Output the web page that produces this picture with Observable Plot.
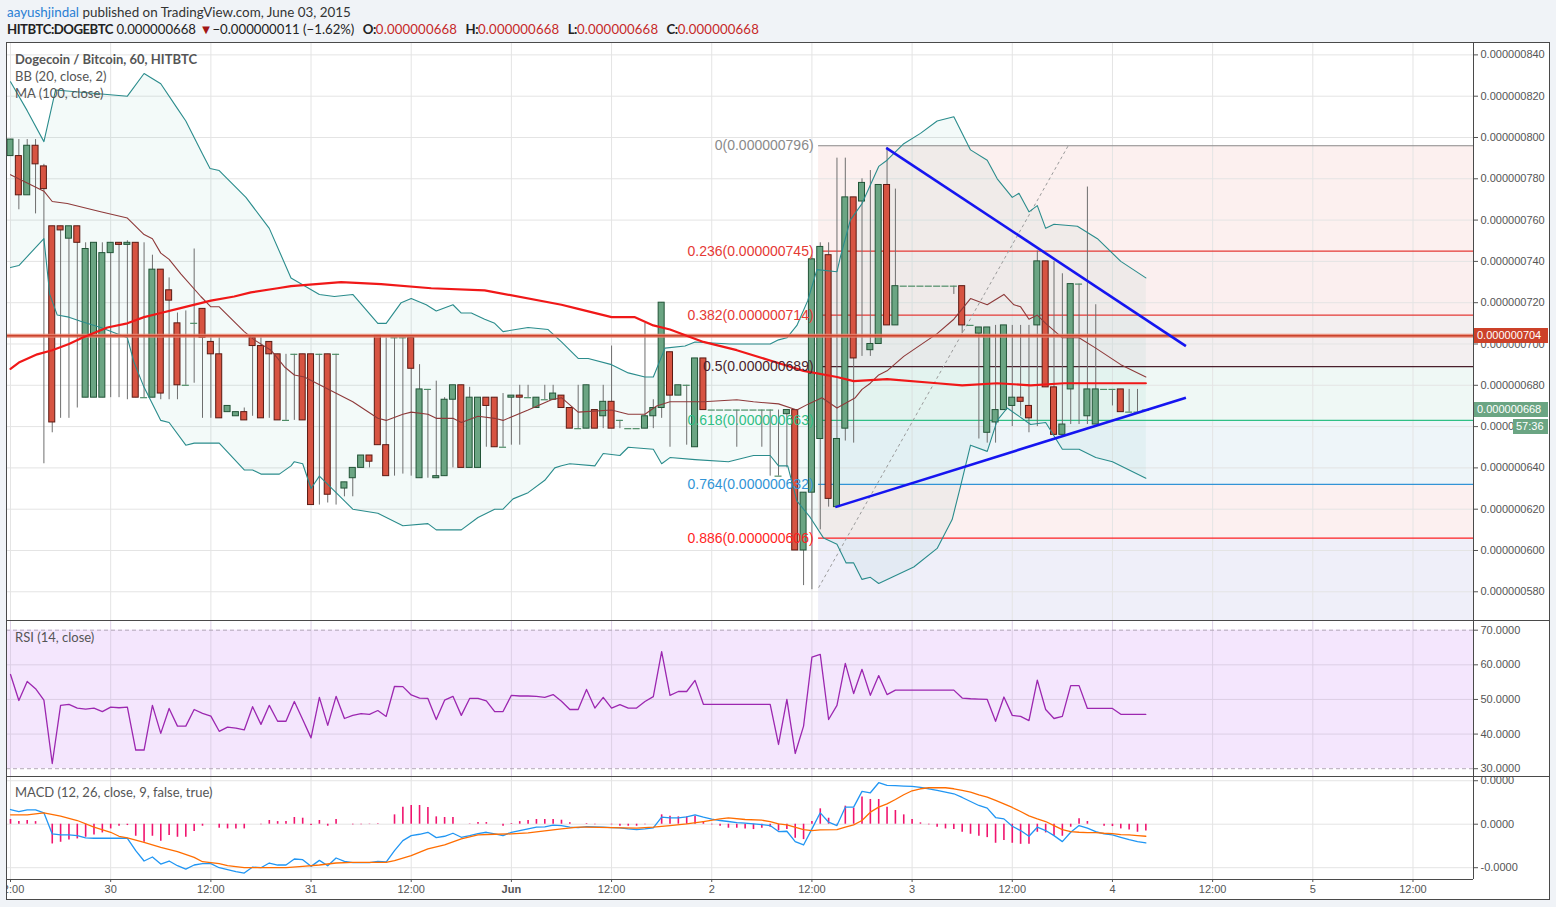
<!DOCTYPE html>
<html><head><meta charset="utf-8">
<script src="https://cdn.jsdelivr.net/npm/d3@7"></script>
<script src="https://cdn.jsdelivr.net/npm/@observablehq/plot@0.6"></script>
<style>
body{margin:0;background:#f0f3f7;}
#page{position:relative;width:1556px;height:907px;overflow:hidden;font-family:Lato,"Open Sans",sans-serif;}
.abs{position:absolute;}
.hdr{position:absolute;left:7px;font-size:13.4px;color:#333;white-space:nowrap;}
.ttl{position:absolute;left:15px;font-size:13px;color:#555;white-space:nowrap;}
.ln{position:absolute;background:#4a4a4a;}
.box{position:absolute;color:#fff;font:11px "Liberation Sans",Arial,sans-serif;line-height:15px;height:15px;padding-left:3px;box-sizing:border-box;}
.red{color:#c62828;letter-spacing:0.15px}
.hdr b{font-weight:700;letter-spacing:-0.5px}
.hdr b.k{margin-left:5px}
</style></head><body><div id="page"></div>
<script>
// ---------- DATA (prices in 1e-9 BTC) ----------
const candleOpen = [791,791,772,796,786,757,757,751,757,674, 674,674,744,749,748,749,674,674,736,726,
 710,680,710,717,701,695,667,665,667,703, 699,701,695,663,695,695,695,695,695,695,
 630,635,640,646,704,651,703,703,703,635, 678,635,636,673,680,640,640,674,674,650,
 674,675,674,669,673,673,675,669,659,659, 668,665,672,663,659,659,659,665,669,696,
 675,680,650,693,668,668,668,668,668,668, 668,668,636,666,668,600,628,654,743,621,
 659,771,769,697,700,777,709,728,728,728, 728,728,728,728,728,709,705,657,662,668,
 670,674,670,709,740,679,656,678,729,665, 661,678,678,678,667,667,668];
const candleHigh = [799,799,799,799,787,757,757,757,757,749, 749,749,749,749,750,749,749,743,736,732,
 715,716,746,717,703,703,670,667,669,703, 703,701,695,695,695,695,695,695,695,695,
 633,640,646,646,704,703,703,703,703,690, 678,682,674,680,680,679,674,674,674,676,
 675,680,680,674,680,680,675,669,680,680, 668,680,699,663,659,659,710,673,720,696,
 680,680,693,693,668,668,668,668,668,668, 668,668,668,668,668,628,743,749,749,790,
 790,771,780,784,777,795,775,728,728,728, 728,728,728,728,728,709,708,708,709,709,
 709,709,709,745,740,740,734,729,729,776, 719,678,678,678,678,678,668];
const candleLow = [791,765,772,763,642,657,664,664,669,674, 674,674,674,674,673,674,674,674,673,673,
 673,680,681,664,664,664,667,665,663,665, 664,664,663,663,663,663,622,622,623,622,
 626,626,640,640,651,636,636,637,636,635, 635,635,636,640,640,640,640,650,650,650,
 651,651,674,669,673,673,669,659,659,659, 659,659,659,659,659,659,659,659,664,650,
 675,651,650,668,668,668,668,650,668,668, 650,636,636,640,600,583,581,610,621,621,
 653,652,694,694,700,709,709,728,728,728, 728,728,728,724,705,709,654,652,652,668,
 660,665,657,660,679,656,656,661,661,661, 661,678,670,667,667,667,668];
const candleClose = [799,772,796,787,775,662,755,757,749,746, 749,744,749,748,749,674,674,736,676,721,
 680,680,710,703,695,664,670,667,663,699, 664,695,663,663,695,663,622,695,627,695,
 633,640,646,643,651,636,703,703,688,678, 678,636,673,680,640,674,674,670,650,650,
 675,674,674,674,673,676,669,659,659,680, 659,672,659,663,659,659,665,669,720,675,
 680,680,693,668,668,668,668,668,668,668, 668,668,636,668,600,628,741,747,625,654,
 771,693,778,700,777,709,728,728,728,728, 728,728,728,728,709,709,708,708,668,709,
 674,672,664,740,679,656,661,729,729,678, 678,678,678,667,667,667,668];

// Bollinger bands & MA(100): [hour, price]
const bbUpper = [[0,827],[2,813],[4,798],[5.4,823],[14,820],[16,831],[18,826],[20,814],[21,808],[23,792],[23.9,785],[25,784],[28.2,771],[31,756],[33.6,732],[37,724],[38.8,723],[41,724],[44,710],[45,710],[46.8,720],[48,722],[49.8,719],[51,716],[53,719],[54,715],[55.2,715],[56.8,712],[58,710],[59,706],[62,708],[64.4,707],[66,701],[68,693],[69.2,693],[72,690],[74,686],[76,684],[77,684],[78.4,698],[80.8,699],[82,701],[86.2,700],[91,700],[92,702],[93,703],[94.2,709],[95.5,721],[96.6,736],[99,735],[99.4,742],[100.6,760],[102,768],[104,786],[105,789],[107,797],[109,802],[111,808],[113,810],[115,794],[117,789],[118.2,780],[120,771],[120.8,773],[122,764],[123,767],[124,756],[125,758],[127.8,757],[130.2,751],[133,740],[136,732]];
const bbLower = [[0,737],[1,738],[4,751],[4.7,724],[5.6,714],[7,713],[8.4,711],[10.8,708],[14,703],[14.8,691],[16,679],[18,663],[19,662],[21,651],[22,652],[25,652],[28,639],[29,639],[30,637],[32.2,637],[33.6,641],[34,643],[35,642],[36,630],[37,636],[38,632],[41,620],[44,618],[47,612],[50,613],[51,610],[54,610],[56,616],[58,620],[59,620],[60.2,625],[62,628],[64,634],[65.2,640],[66,641],[67,642],[70,641],[71,647],[73,646],[74,650],[77,649],[78,642],[79,645],[82,644],[86,643],[89,646],[91,646],[92,641],[93.1,641],[94.2,624],[95.8,616],[97.4,606],[99,603],[100.1,594],[101,594],[102,586],[103,587],[104,584],[108.2,592],[111,601],[112.8,615],[113.8,631],[115,651],[117,648],[118.2,663],[119.4,669],[122.2,661],[124,662],[126,649],[128,649],[130,645],[132,643],[136,635]];
const bbBasis = [[0,782],[4,774],[5,769],[6.8,768],[10.8,764],[14,761],[16,753],[17,751],[18,744],[19,741],[20.4,734],[22.8,723],[24,718],[25,718],[28,706],[29.2,702],[31.2,697],[32.8,689],[34,685],[35.2,684],[37.6,679],[41,672],[44,664],[45,663],[47,666],[48,667],[50,666],[51,664],[53,664],[54,662],[56,665],[58,664],[59,663],[62,668],[64.8,673],[66,674],[68,667],[72,668],[74,666],[76,666],[77.4,670],[79,672],[83,672],[87,673],[89,672],[92,671],[94.2,668],[95.6,671],[97.2,674],[99,669],[101.2,674],[102,678],[103,681],[104,685],[105,687],[107,694],[111,705],[113,712],[115,722],[117,719],[119,724],[120.2,719],[121,718],[122,712],[123,714],[124,710],[126,703],[128,703],[130,698],[133,690],[136,684]];
const ma100 = [[0,688],[1,691],[3.2,695],[5,697],[7,700],[8.6,703],[11.6,708],[14,710],[16,713],[18,715],[20,717],[24,721],[26.8,723],[28.8,725],[32,727],[33.6,728],[39.6,730],[44.4,729],[50.4,727],[56.8,726],[66,719],[68,717],[72,713],[74.8,713],[77,709],[79,707],[83,701],[87,697],[91,692],[95,687],[99,684],[101,682],[105,683],[111,681],[114,680],[118.2,681],[122.2,680],[126.2,681],[136,681]];

// Fibonacci retracement
const fibRatios = ["0","0.236","0.382","0.5","0.618","0.764","0.886"];
const fibPrices = [796,745,714,689,663,632,606];
const fibColors = ["#8a8a8a","#e53935","#e53935","#4a1f2c","#2fbf85","#3194d6","#ff1f1f"];
const fibFills = ["#fcf0ef","#fbefef","#f3eff0","#eff8f5","#eef5f9","#fcf0f0","#efeff9"];
const fibStartHour = 96.8;
const fibSwing = [[96.8,582],[126.7,796]];
const horizLine = 704;
const trendLines = [[[104.9,795],[140.8,699]],[[98.8,621],[140.8,674]]];

// RSI (14)
const rsi = [57.2,49.7,55.2,53.1,49.8,31.5,48.3,48.6,47.5,47.2, 47.5,46.5,47.8,47.6,47.8,35.4,35.4,48.3,40.2,47.4,
 42.3,42.3,47.1,46.0,45.2,40.8,42.0,41.7,41.2,47.9, 42.8,48.3,43.7,43.7,49.4,44.2,38.9,50.6,42.5,50.9,
 44.5,45.4,45.9,45.7,46.8,45.1,53.8,53.7,51.3,50.4, 50.3,44.2,49.8,50.9,45.4,50.3,50.3,49.6,46.5,46.5,
 51.2,51.0,51.0,50.9,50.6,51.4,49.5,47.1,47.1,52.9, 47.5,50.6,47.5,48.5,47.5,47.5,49.4,50.8,63.8,51.2,
 52.3,52.3,55.5,48.6,48.6,48.6,48.6,48.6,48.6,48.6, 48.6,48.6,37.0,50.0,34.4,42.3,62.2,63.0,44.2,48.3,
 60.4,51.7,58.7,51.2,56.9,51.4,52.7,52.7,52.7,52.7, 52.7,52.7,52.7,52.7,50.4,50.2,50.1,50.0,43.7,50.7,
 45.4,45.1,43.9,55.6,47.1,44.5,45.1,54.0,54.0,47.4, 47.4,47.4,47.4,45.7,45.7,45.7,45.7];
const rsiBand = [30,70];
const rsiTicks = [30,40,50,60,70];

// MACD (units of 1e-9)
const macd = [0.338,0.292,0.331,0.331,0.262,-0.223,-0.246,-0.246,-0.262,-0.315, -0.323,-0.323,-0.323,-0.323,-0.323,-0.608,-0.846,-0.754,-0.915,-0.846,
 -0.954,-1.031,-0.938,-0.908,-0.908,-1.0,-1.046,-1.092,-1.123,-0.985, -1.0,-0.892,-0.938,-0.938,-0.8,-0.815,-0.969,-0.831,-0.954,-0.777,
 -0.854,-0.885,-0.885,-0.885,-0.854,-0.869,-0.608,-0.377,-0.262,-0.231, -0.185,-0.308,-0.277,-0.208,-0.3,-0.262,-0.215,-0.185,-0.223,-0.262,
 -0.185,-0.146,-0.108,-0.069,-0.062,-0.023,-0.031,-0.069,-0.077,-0.054, -0.062,-0.069,-0.077,-0.085,-0.108,-0.123,-0.108,-0.085,0.162,0.146,
 0.146,0.169,0.215,0.162,0.115,0.085,0.062,0.038,0.023,0.008, -0.008,-0.031,-0.169,-0.162,-0.4,-0.477,-0.108,0.262,0.046,-0.031,
 0.392,0.392,0.754,0.723,0.954,0.892,0.885,0.877,0.869,0.846, 0.815,0.777,0.738,0.7,0.615,0.523,0.431,0.369,0.154,0.123,
 -0.046,-0.146,-0.277,-0.069,-0.146,-0.262,-0.4,-0.185,-0.031,-0.092, -0.169,-0.223,-0.246,-0.3,-0.354,-0.4,-0.431];
const signal = [[0,0.215],[2,0.215],[4,0.262],[6,0.185],[8,0.085],[10,-0.069],[12,-0.185],[13,-0.277],[14,-0.315],[16,-0.415],[18,-0.531],[20,-0.631],[22,-0.762],[23,-0.862],[25,-0.908],[26,-0.954],[28,-1.0],[33,-1.0],[35,-0.969],[37,-0.938],[39,-0.892],[41,-0.877],[45,-0.877],[46,-0.838],[48,-0.723],[50,-0.569],[52,-0.477],[54,-0.338],[56,-0.246],[58,-0.231],[60,-0.223],[62,-0.2],[64,-0.154],[66,-0.108],[68,-0.069],[69,-0.069],[75,-0.092],[77,-0.069],[79,-0.031],[81,0.008],[83,0.062],[85,0.123],[86,0.146],[88,0.108],[90,0.092],[91,0.062],[92,0.008],[93,-0.015],[95,-0.123],[96,-0.146],[97,-0.131],[99,-0.123],[100,-0.069],[101,-0.015],[102,0.085],[103,0.277],[104,0.392],[105,0.469],[106,0.569],[107,0.677],[108,0.769],[109,0.815],[110,0.838],[111,0.838],[112,0.838],[113,0.815],[114,0.777],[115,0.738],[116,0.677],[117,0.623],[118,0.546],[119,0.469],[120,0.385],[121,0.292],[122,0.192],[123,0.123],[124,0.062],[125,-0.031],[126,-0.123],[127,-0.169],[128,-0.185],[129,-0.192],[130,-0.192],[131,-0.208],[132,-0.215],[133,-0.238],[134,-0.246],[135,-0.262],[136,-0.277]];
const hist = [0.108,0.06,0.085,0.06,0,-0.454,-0.415,-0.362,-0.338,-0.3, -0.246,-0.2,-0.108,-0.046,-0.031,-0.277,-0.415,-0.277,-0.392,-0.262,
 -0.3,-0.3,-0.169,-0.046,0,-0.092,-0.108,-0.108,-0.108,0, -0.015,0.085,0.06,0.06,0.154,0.138,-0.031,0.085,-0.046,0.108,
 0,-0.015,-0.015,-0.008,0.008,0,0.215,0.392,0.431,0.431, 0.385,0.169,0.154,0.154,0,0.008,0.038,0.038,0,-0.046,
 0.015,0.06,0.085,0.108,0.108,0.108,0.092,0.031,0,0.015, -0.015,0,-0.015,-0.046,-0.046,-0.046,-0.015,0,0.215,0.185,
 0.169,0.169,0.185,0.062,-0.015,-0.046,-0.092,-0.092,-0.108,-0.123, -0.092,-0.069,-0.154,-0.123,-0.323,-0.354,0.062,0.354,0.138,-0.015,
 0.415,0.369,0.623,0.569,0.569,0.392,0.315,0.215,0.108,0.031, -0.015,-0.069,-0.108,-0.123,-0.185,-0.231,-0.277,-0.308,-0.438,-0.377,
 -0.438,-0.462,-0.462,-0.185,-0.2,-0.277,-0.277,-0.069,0.123,0.062, 0,-0.046,-0.054,-0.108,-0.131,-0.185,-0.154];
const macdTicks = [-1,0,1];
const macdTickLabels = ["-0.0000","0.0000","0.0000"];

// axes
const priceTicks = [580,600,620,640,660,680,700,720,740,760,780,800,820,840];
const xTickHours = [0,12,24,36,48,60,72,84,96,108,120,132,144,156,168];
const xTickLabels = ["12:00","30","12:00","31","12:00","Jun","12:00","2","12:00","3","12:00","4","12:00","5","12:00"];
const boldTickLabels = ["Jun"];

// ---------- LAYOUT ----------
const xDomain = [-0.48, 175.25];
const priceDomain = [566.1, 846.0];
const rsiDomain = [27.75, 72.8];
const macdDomain = [-1.271, 1.097];
const W = 1543, MR = 76;
const AX = "Liberation Sans, Arial, sans-serif";

const page = document.getElementById("page");
function add(html){ page.insertAdjacentHTML("beforeend", html); }

add(`<div class="hdr" style="top:4px"><span style="color:#2a7fd4">aayushjindal</span> published on TradingView.com, June 03, 2015</div>`);
add(`<div class="hdr" style="top:21px;color:#222;font-size:13.2px"><b>HITBTC:DOGEBTC</b> 0.000000668 <span style="color:#a31515">&#9660;</span>&#8722;0.000000011 (&#8722;1.62%) <b class="k">O:</b><span class="red">0.000000668</span> <b class="k">H:</b><span class="red">0.000000668</span> <b class="k">L:</b><span class="red">0.000000668</span> <b class="k">C:</b><span class="red">0.000000668</span></div>`);
add(`<div class="abs" style="left:6px;top:42px;width:1543px;height:858px;background:#fff"></div>`);

const candles = candleOpen.map((o, i) => ({h: i, o, hi: candleHigh[i], lo: candleLow[i], c: candleClose[i]}));
const bodies = candles.filter(d => d.o !== d.c);
const flats = candles.filter(d => d.o === d.c);
const fibLevels = fibPrices.map((p, i) => ({p, r: fibRatios[i], color: fibColors[i]}));
const fibBands = fibPrices.map((p, i) => ({top: p, bottom: i + 1 < fibPrices.length ? fibPrices[i + 1] : priceDomain[0], fill: fibFills[i]}));
const bbPoly = bbUpper.concat(bbLower.slice().reverse());
const trends = trendLines.map(([a, b]) => ({x1: a[0], y1: a[1], x2: b[0], y2: b[1]}));

const main = Plot.plot({
  width: W, height: 578, marginTop: 0, marginBottom: 0, marginLeft: 0, marginRight: MR,
  style: {background: "transparent", color: "#555", fontFamily: AX},
  x: {domain: xDomain, axis: null},
  y: {domain: priceDomain, axis: null},
  marks: [
    Plot.rect(fibBands, {x1: fibStartHour, x2: xDomain[1], y1: "top", y2: "bottom", fill: "fill"}),
    Plot.gridX(xTickHours, {stroke: "#e4e4e4", strokeOpacity: 1}),
    Plot.gridY(priceTicks, {stroke: "#e4e4e4", strokeOpacity: 1}),
    Plot.line(bbPoly, {x: d => d[0], y: d => d[1], fill: "#26a69a", fillOpacity: 0.055, stroke: null}),
    Plot.ruleY(fibLevels, {y: "p", x1: fibStartHour, x2: xDomain[1], stroke: "color", strokeWidth: 1.2}),
    Plot.link([fibSwing], {x1: d => d[0][0], y1: d => d[0][1], x2: d => d[1][0], y2: d => d[1][1], stroke: "#9a9a9a", strokeDasharray: "3,3"}),
    Plot.ruleX(candles, {x: "h", y1: "lo", y2: "hi", stroke: "#6e6e6e", strokeWidth: 1}),
    Plot.rect(bodies, {x1: d => d.h - 0.36, x2: d => d.h + 0.36, y1: "o", y2: "c",
      fill: d => d.c > d.o ? "#6ba583" : "#d75442", stroke: d => d.c > d.o ? "#225437" : "#5b1a13", strokeWidth: 1}),
    Plot.ruleY(flats, {y: "c", x1: d => d.h - 0.42, x2: d => d.h + 0.42, stroke: "#4d8c66", strokeWidth: 1.2}),
    Plot.line(bbUpper, {x: d => d[0], y: d => d[1], stroke: "#2a8c8c", strokeWidth: 1.1}),
    Plot.line(bbLower, {x: d => d[0], y: d => d[1], stroke: "#2a8c8c", strokeWidth: 1.1}),
    Plot.line(bbBasis, {x: d => d[0], y: d => d[1], stroke: "#8e3a3a", strokeWidth: 1.1}),
    Plot.ruleY([horizLine], {stroke: "#e9836f", strokeWidth: 4, strokeOpacity: 0.85}),
    Plot.ruleY([horizLine], {stroke: "#c9432c", strokeWidth: 1.5}),
    Plot.line(ma100, {x: d => d[0], y: d => d[1], stroke: "#f01818", strokeWidth: 2.2}),
    Plot.link(trends, {x1: "x1", y1: "y1", x2: "x2", y2: "y2", stroke: "#1515f0", strokeWidth: 2.6}),
    Plot.text(fibLevels, {x: fibStartHour, y: "p", text: d => `${d.r}(0.000000${d.p})`, textAnchor: "end", dx: -5,
      fill: "color", fontSize: 14, fontFamily: AX}),
    Plot.axisY(priceTicks, {anchor: "right", tickFormat: d => "0.000000" + d, tickSize: 4, tickPadding: 3, fontSize: 11})
  ]
});
main.style.position = "absolute"; main.style.left = "6px"; main.style.top = "42px";
page.appendChild(main);

const rsiChart = Plot.plot({
  width: W, height: 156, marginTop: 0, marginBottom: 0, marginLeft: 0, marginRight: MR,
  style: {background: "transparent", color: "#555", fontFamily: AX},
  x: {domain: xDomain, axis: null},
  y: {domain: rsiDomain, axis: null},
  marks: [
    Plot.rect([rsiBand], {x1: xDomain[0], x2: xDomain[1], y1: d => d[0], y2: d => d[1], fill: "#f4e6fd"}),
    Plot.gridX(xTickHours, {stroke: "#ddd0e6", strokeOpacity: 1}),
    Plot.gridY([40, 50, 60], {stroke: "#dccfe5", strokeOpacity: 1}),
    Plot.ruleY(rsiBand, {stroke: "#b3a8b8", strokeDasharray: "4,3"}),
    Plot.line(rsi, {x: (d, i) => i, y: d => d, stroke: "#9c27b0", strokeWidth: 1.3}),
    Plot.axisY(rsiTicks, {anchor: "right", tickFormat: d => d.toFixed(4), tickSize: 4, tickPadding: 3, fontSize: 11})
  ]
});
rsiChart.style.position = "absolute"; rsiChart.style.left = "6px"; rsiChart.style.top = "620px";
page.appendChild(rsiChart);

const labelOf = d => xTickLabels[xTickHours.indexOf(d)];
const macdChart = Plot.plot({
  width: W, height: 124, marginTop: 0, marginBottom: 21, marginLeft: 0, marginRight: MR,
  style: {background: "transparent", color: "#555", fontFamily: AX},
  x: {domain: xDomain, axis: null},
  y: {domain: macdDomain, axis: null},
  marks: [
    Plot.gridX(xTickHours, {stroke: "#e4e4e4", strokeOpacity: 1}),
    Plot.gridY(macdTicks, {stroke: "#e4e4e4", strokeOpacity: 1}),
    Plot.ruleX(hist, {x: (d, i) => i, y1: 0, y2: d => d, stroke: "#f0146e", strokeWidth: 1.6}),
    Plot.line(macd, {x: (d, i) => i, y: d => d, stroke: "#2196f3", strokeWidth: 1.3}),
    Plot.line(signal, {x: d => d[0], y: d => d[1], stroke: "#ff6d00", strokeWidth: 1.3}),
    Plot.axisY(macdTicks, {anchor: "right", tickFormat: d => macdTickLabels[macdTicks.indexOf(d)], tickSize: 4, tickPadding: 3, fontSize: 11}),
    Plot.axisX(xTickHours.filter(d => !boldTickLabels.includes(labelOf(d))), {anchor: "bottom", tickFormat: labelOf, tickSize: 3, tickPadding: 3, fontSize: 11}),
    Plot.axisX(xTickHours.filter(d => boldTickLabels.includes(labelOf(d))), {anchor: "bottom", tickFormat: labelOf, tickSize: 3, tickPadding: 3, fontSize: 11, fontWeight: "bold"})
  ]
});
macdChart.style.position = "absolute"; macdChart.style.left = "6px"; macdChart.style.top = "776px";
page.appendChild(macdChart);

// frame & separators
add(`<div class="ln" style="left:6px;top:42px;width:1544px;height:1px"></div>`);
add(`<div class="ln" style="left:6px;top:899px;width:1544px;height:1px"></div>`);
add(`<div class="ln" style="left:6px;top:42px;width:1px;height:858px"></div>`);
add(`<div class="ln" style="left:1549px;top:42px;width:1px;height:858px"></div>`);
add(`<div class="ln" style="left:6px;top:620px;width:1544px;height:1px"></div>`);
add(`<div class="ln" style="left:6px;top:776px;width:1544px;height:1px"></div>`);
add(`<div class="ln" style="left:6px;top:879px;width:1467px;height:1px"></div>`);
add(`<div class="ln" style="left:1473px;top:42px;width:1px;height:837px"></div>`);

// pane titles
add(`<div class="ttl" style="top:51px;font-weight:700">Dogecoin / Bitcoin, 60, HITBTC</div>`);
add(`<div class="ttl" style="top:68px">BB (20, close, 2)</div>`);
add(`<div class="ttl" style="top:85px">MA (100, close)</div>`);
add(`<div class="ttl" style="top:629px">RSI (14, close)</div>`);
add(`<div class="ttl" style="top:784px">MACD (12, 26, close, 9, false, true)</div>`);

// price labels on the right axis
const yS = main.scale("y");
const last = candleClose[candleClose.length - 1];
add(`<div class="box" style="left:1474px;top:${42 + yS.apply(horizLine) - 7.5}px;width:74px;background:#cc4129">0.000000${horizLine}</div>`);
add(`<div class="box" style="left:1474px;top:${42 + yS.apply(last) - 7.5}px;width:74px;background:#6ba583">0.000000${last}</div>`);
add(`<div class="box" style="left:1513px;top:${42 + yS.apply(last) + 9}px;width:35px;background:#6ba583">57:36</div>`);
</script></body></html>
